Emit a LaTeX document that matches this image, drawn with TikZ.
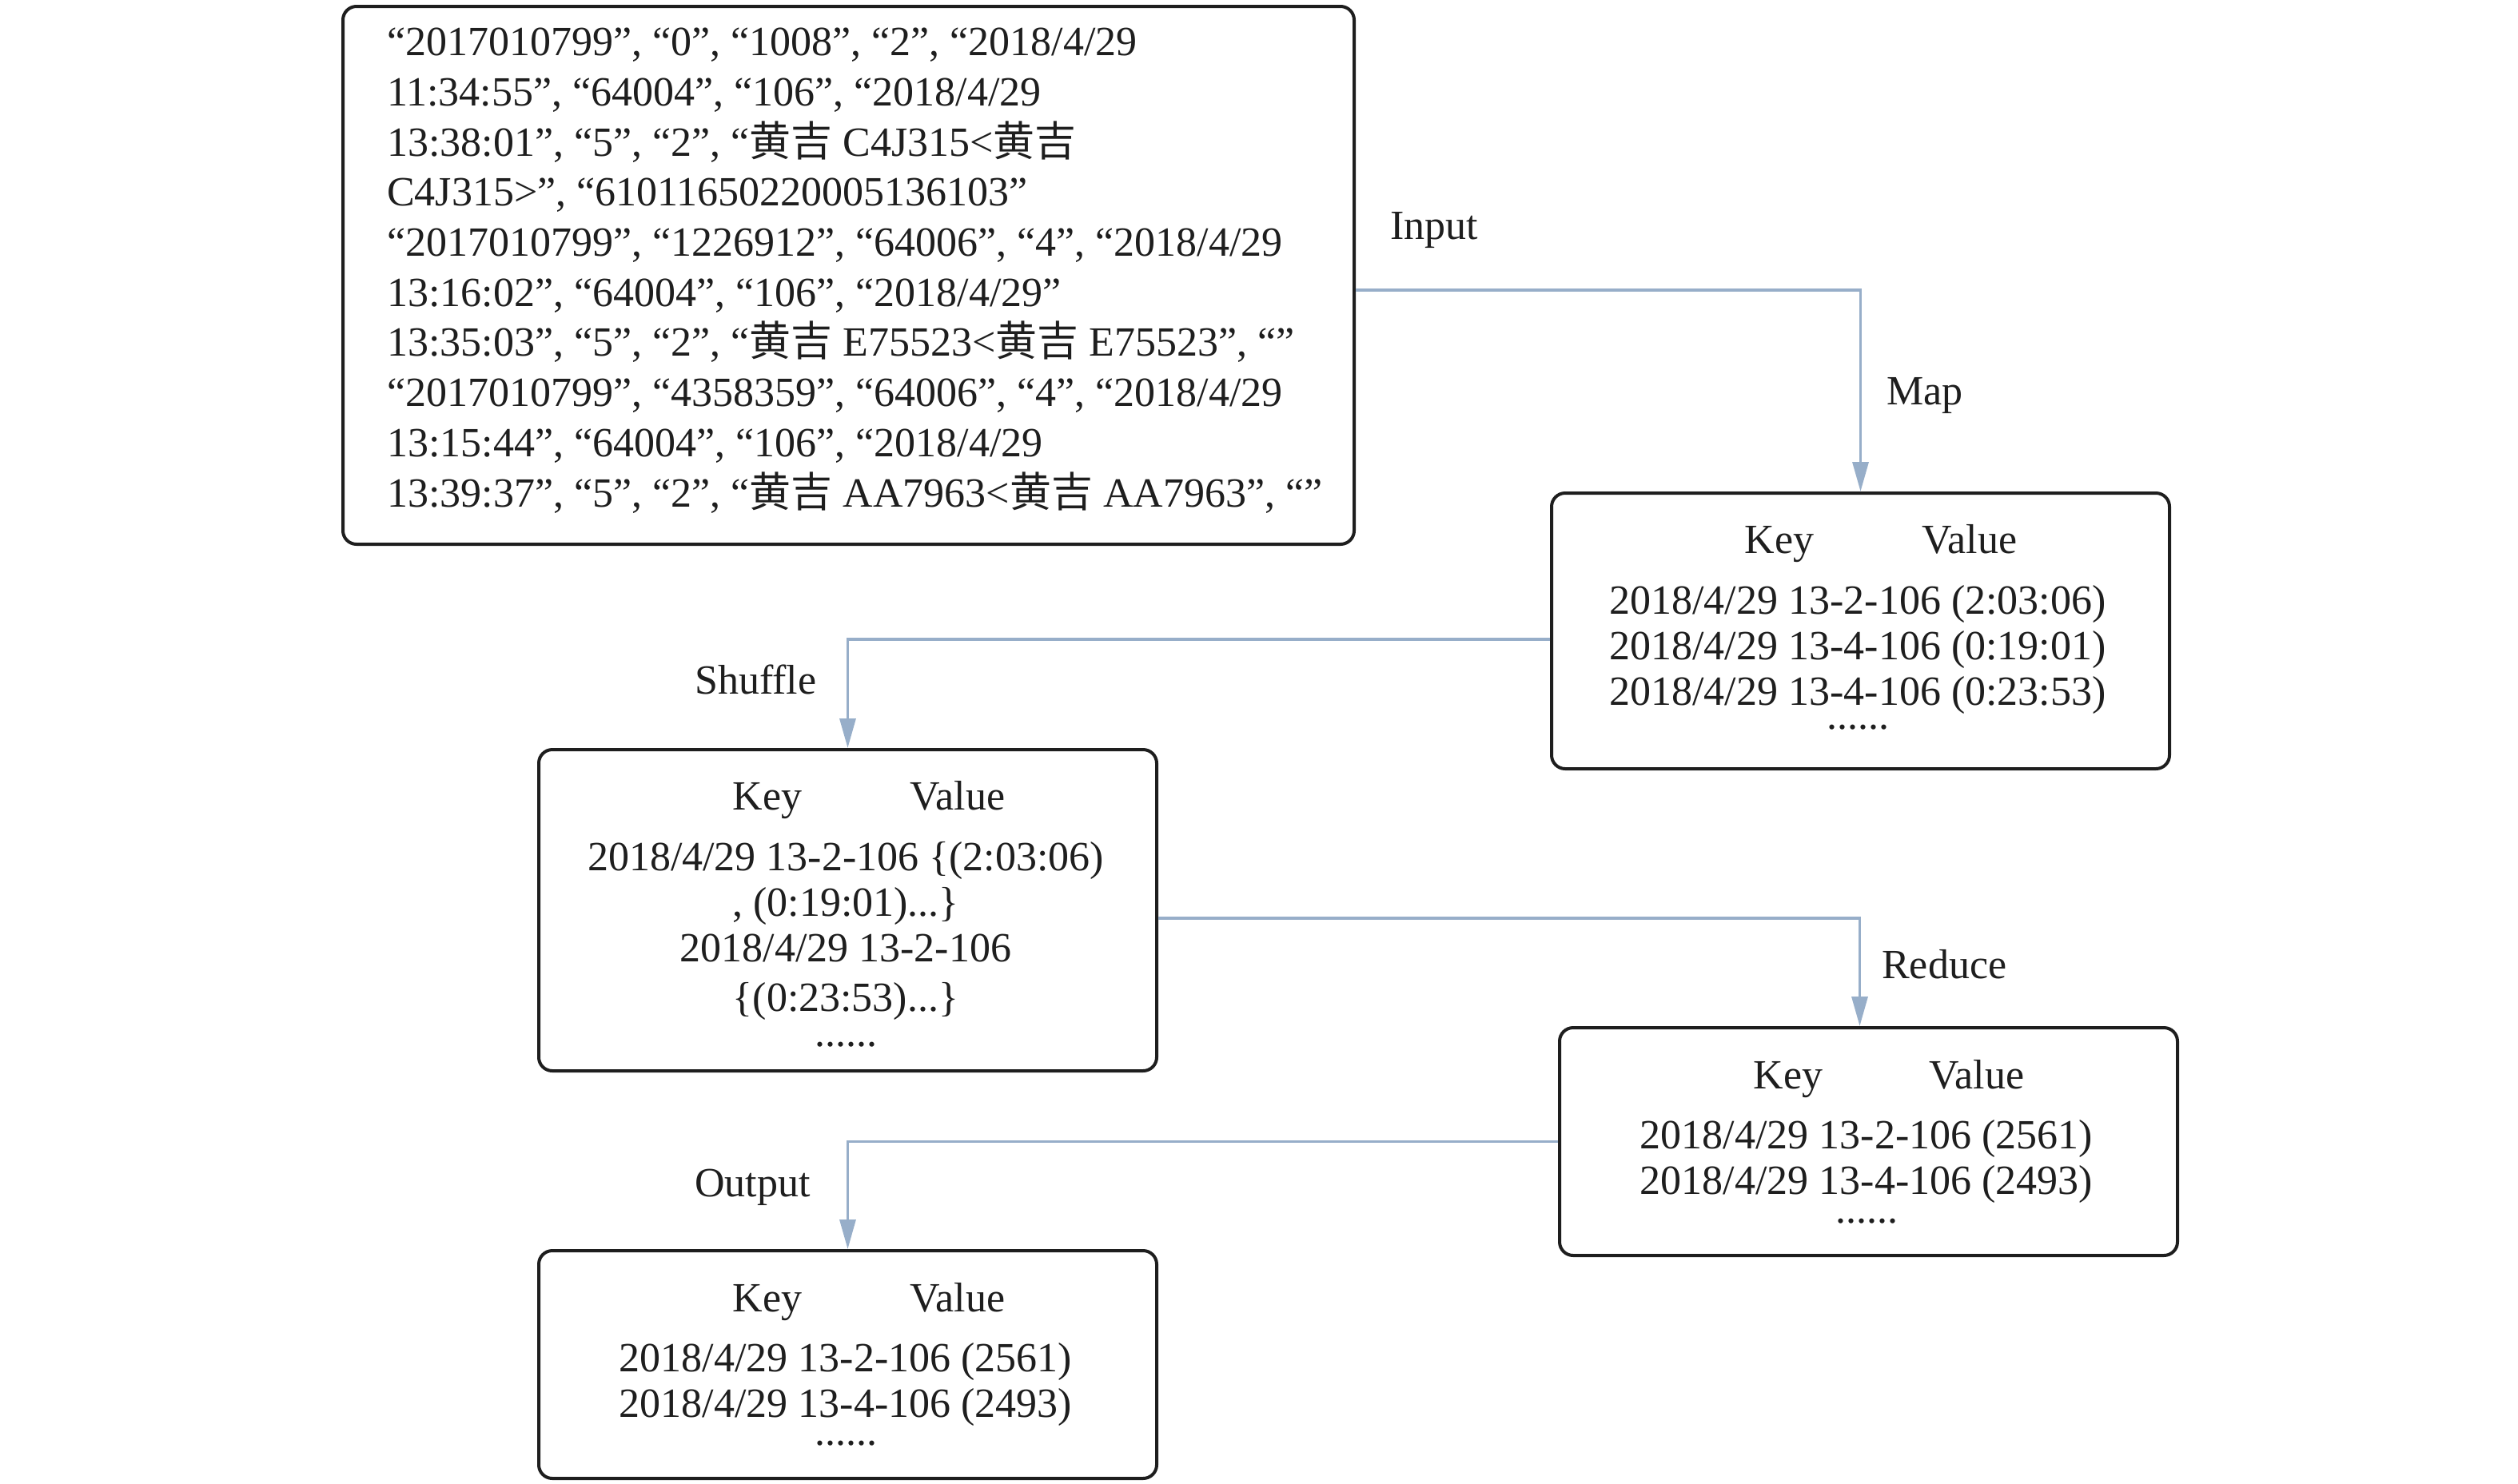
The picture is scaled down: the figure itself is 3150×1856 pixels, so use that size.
\documentclass[tikz,border=0pt]{standalone}
\usepackage{fontspec}
\setmainfont{Liberation Serif}
\newfontfamily\cjk{Noto Sans CJK SC}
\newcommand{\hj}{{\cjk 黄吉}}
\usetikzlibrary{arrows.meta}
\definecolor{arrowblue}{RGB}{151,174,201}
\definecolor{boxline}{RGB}{30,30,30}
\begin{document}
\begin{tikzpicture}[x=1pt,y=-1pt,
  box/.style={draw=boxline, line width=4pt, rounded corners=17pt, inner sep=0pt, anchor=north west},
  flow/.style={draw=arrowblue, line width=3.3pt, -{Triangle[length=37pt,width=20pt]}},
  txt/.style={inner sep=0pt, text=boxline, font=\fontsize{52}{57}\selectfont},
  lbl/.style={inner sep=0pt, text=boxline, anchor=base west, font=\fontsize{52}{62}\selectfont}]
\useasboundingbox (0,0) rectangle (3150,1856);

% boxes
\node[box, minimum width=1265pt, minimum height=673pt] (in) at (427,6) {};
\node[box, minimum width=773pt, minimum height=345pt] (mapb) at (1939,615) {};
\node[box, minimum width=773pt, minimum height=402pt] (shb) at (672,936) {};
\node[box, minimum width=773pt, minimum height=285pt] (redb) at (1949,1284) {};
\node[box, minimum width=773pt, minimum height=285pt] (outb) at (672,1563) {};

% input text (anchored at the baseline of its last line)
\node[txt, anchor=base west, align=left, font=\fontsize{52}{62.7}\selectfont] (intext) at (484,634)
{“2017010799”, “0”, “1008”, “2”, “2018/4/29\\
11:34:55”, “64004”, “106”, “2018/4/29\\
13:38:01”, “5”, “2”, “\hj{} C4J315<\hj\\
C4J315>”, “61011650220005136103”\\
“2017010799”, “1226912”, “64006”, “4”, “2018/4/29\\
13:16:02”, “64004”, “106”, “2018/4/29”\\
13:35:03”, “5”, “2”, “\hj{} E75523<\hj{} E75523”, “”\\
“2017010799”, “4358359”, “64006”, “4”, “2018/4/29\\
13:15:44”, “64004”, “106”, “2018/4/29\\
13:39:37”, “5”, “2”, “\hj{} AA7963<\hj{} AA7963”, “”};

% map box text
\node[txt, anchor=base] (mapkey) at (2226,692) {Key};
\node[txt, anchor=base] (mapval) at (2464,692) {Value};
\node[txt, anchor=base, align=center] (mapbody) at (2324,882)
{2018/4/29 13-2-106 (2:03:06)\\2018/4/29 13-4-106 (0:19:01)\\2018/4/29 13-4-106 (0:23:53)};
\node[txt, anchor=base] (mapdots) at (2324,912) {......};

% shuffle box text
\node[txt, anchor=base] (shkey) at (960,1013) {Key};
\node[txt, anchor=base] (shval) at (1198,1013) {Value};
\node[txt, anchor=base, align=center] (shbody) at (1058,1265)
{2018/4/29 13-2-106 \{(2:03:06)\\, (0:19:01)...\}\\2018/4/29 13-2-106\\[5pt]\{(0:23:53)...\}};
\node[txt, anchor=base] (shdots) at (1058,1309) {......};

% reduce box text
\node[txt, anchor=base] (redkey) at (2237,1362) {Key};
\node[txt, anchor=base] (redval) at (2473,1362) {Value};
\node[txt, anchor=base, align=center] (redbody) at (2335,1494)
{2018/4/29 13-2-106 (2561)\\2018/4/29 13-4-106 (2493)};
\node[txt, anchor=base] (reddots) at (2335,1530) {......};

% output box text
\node[txt, anchor=base] (outkey) at (960,1641) {Key};
\node[txt, anchor=base] (outval) at (1198,1641) {Value};
\node[txt, anchor=base, align=center] (outbody) at (1058,1773)
{2018/4/29 13-2-106 (2561)\\2018/4/29 13-4-106 (2493)};
\node[txt, anchor=base] (outdots) at (1058,1808) {......};

% connectors
\draw[flow] ([yshift=-18.5pt]in.east) -| (mapb.north);
\draw[flow] ([yshift=-10.5pt]mapb.west) -| (shb.north);
\draw[flow] ([yshift=-10pt]shb.east) -| ([xshift=-11pt]redb.north);
\draw[flow] (redb.west) -| (outb.north);

% labels
\node[lbl] (linput) at (1739,299) {Input};
\node[lbl] (lmap) at (2360,506) {Map};
\node[lbl] (lshuffle) at (869,868) {Shuffle};
\node[lbl] (lreduce) at (2354,1224) {Reduce};
\node[lbl] (loutput) at (869,1497) {Output};
\end{tikzpicture}
\end{document}
